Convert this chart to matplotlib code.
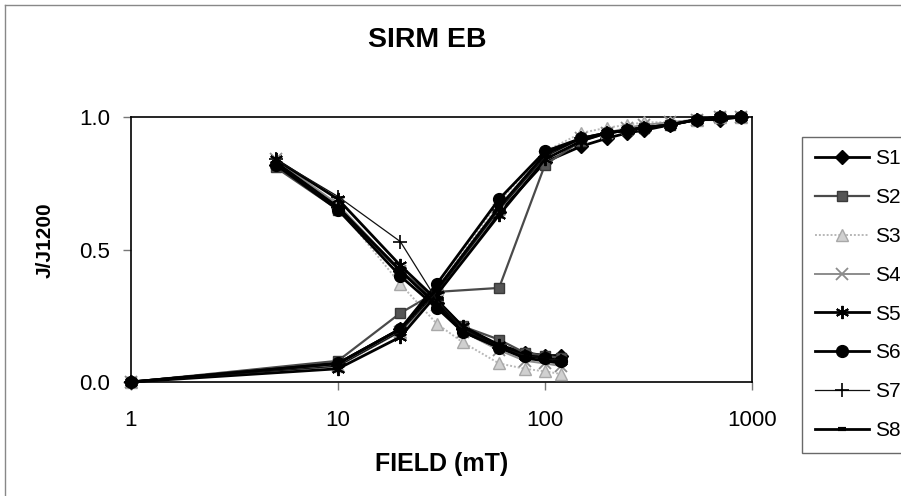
import matplotlib
matplotlib.use("Agg")
import matplotlib.pyplot as plt
from matplotlib.lines import Line2D
import numpy as np

plt.rcParams['font.family'] = ['Liberation Sans', 'DejaVu Sans']

# ---------------- data ----------------
series_names = ["S1", "S2", "S3", "S4", "S5", "S6", "S7", "S8"]

# AF demagnetisation of SIRM (fields in mT)
af_field = [5, 10, 20, 30, 40, 60, 80, 100, 120]
af_S1 = [0.82, 0.66, 0.42, 0.30, 0.20, 0.14, 0.11, 0.10, 0.10]
af_S2 = [0.81, 0.65, 0.42, 0.31, 0.21, 0.16, 0.11, 0.10, 0.09]
af_S3 = [0.83, 0.66, 0.37, 0.22, 0.15, 0.07, 0.05, 0.04, 0.03]
af_S4 = [0.84, 0.67, 0.42, 0.29, 0.19, 0.12, 0.08, 0.07, 0.06]
af_S5 = [0.84, 0.69, 0.44, 0.31, 0.21, 0.14, 0.10, 0.09, 0.08]
af_S6 = [0.82, 0.65, 0.40, 0.28, 0.19, 0.13, 0.10, 0.09, 0.08]
af_S7 = [0.84, 0.70, 0.53, 0.31, 0.20, 0.13, 0.10, 0.09, 0.08]
af_S8 = [0.83, 0.66, 0.42, 0.29, 0.19, 0.13, 0.09, 0.08, 0.07]

# IRM acquisition (fields in mT)
acq_field = [1, 10, 20, 30, 60, 100, 150, 200, 250, 300, 400, 540, 700, 880]
acq_S1 = [0.0, 0.07, 0.20, 0.34, 0.64, 0.83, 0.89, 0.92, 0.94, 0.95, 0.97, 0.99, 0.99, 1.0]
acq_S2 = [0.0, 0.08, 0.26, 0.34, 0.355, 0.82, 0.91, 0.94, 0.95, 0.96, 0.97, 0.99, 1.0, 1.0]
acq_S3 = [0.0, 0.06, 0.19, 0.35, 0.68, 0.87, 0.94, 0.96, 0.97, 0.98, 0.98, 0.99, 1.0, 1.0]
acq_S4 = [0.0, 0.06, 0.19, 0.33, 0.65, 0.85, 0.92, 0.94, 0.96, 0.97, 0.98, 0.99, 1.0, 1.0]
acq_S5 = [0.0, 0.05, 0.17, 0.33, 0.63, 0.84, 0.91, 0.94, 0.95, 0.96, 0.97, 0.99, 1.0, 1.0]
acq_S6 = [0.0, 0.07, 0.20, 0.37, 0.69, 0.87, 0.92, 0.94, 0.95, 0.96, 0.97, 0.99, 1.0, 1.0]
acq_S7 = [0.0, 0.06, 0.19, 0.34, 0.65, 0.85, 0.92, 0.94, 0.95, 0.96, 0.97, 0.99, 1.0, 1.0]
acq_S8 = [0.0, 0.07, 0.20, 0.35, 0.66, 0.86, 0.92, 0.94, 0.95, 0.96, 0.97, 0.99, 1.0, 1.0]

af_values = [af_S1, af_S2, af_S3, af_S4, af_S5, af_S6, af_S7, af_S8]
acq_values = [acq_S1, acq_S2, acq_S3, acq_S4, acq_S5, acq_S6, acq_S7, acq_S8]

x_ticks = [1, 10, 100, 1000]
x_tick_labels = ["1", "10", "100", "1000"]
y_ticks = [0.0, 0.5, 1.0]
y_tick_labels = ["0.0", "0.5", "1.0"]

# ---------------- styles ----------------
styles = [
    dict(color="#000000", marker="D", ms=7.5, lw=2.0, mec="#000000", mfc="#000000", mew=1),
    dict(color="#4a4a4a", marker="s", ms=7.5, lw=1.6, mec="#3a3a3a", mfc="#555555", mew=1),
    dict(color="#b8b8b8", marker="^", ms=8.5, lw=1.4, mec="#a8a8a8", mfc="#d0d0d0", mew=1, ls=(0, (1, 1))),
    dict(color="#8c8c8c", marker="x", ms=8.5, lw=1.4, mec="#8c8c8c", mfc="none", mew=1.3),
    dict(color="#000000", marker=(6, 2, 0), ms=9.5, lw=2.0, mec="#000000", mfc="none", mew=1.4),
    dict(color="#000000", marker="o", ms=8.5, lw=2.0, mec="#000000", mfc="#000000", mew=1),
    dict(color="#111111", marker="+", ms=10, lw=0.9, mec="#000000", mfc="none", mew=1.2),
    dict(color="#000000", marker="_", ms=6, lw=2.0, mec="#000000", mfc="none", mew=3),
]

W, H = 901, 496
fig = plt.figure(figsize=(W / 100, H / 100), dpi=100)
ax = fig.add_axes([131 / W, 1 - 382 / H, (752 - 131) / W, (382 - 117) / H])

handles = []
for name, st, afv, acqv in zip(series_names, styles, af_values, acq_values):
    kw = dict(color=st["color"], marker=st["marker"], markersize=st["ms"], linewidth=st["lw"],
              markeredgecolor=st["mec"], markerfacecolor=st["mfc"], markeredgewidth=st["mew"],
              linestyle=st.get("ls", "-"), clip_on=False, zorder=3)
    ax.plot(acq_field, acqv, **kw)
    ax.plot(af_field, afv, **kw)
    handles.append(Line2D([], [], label=name, **kw))

ax.set_xscale("log")
ax.set_xlim(1, 1000)
ax.set_ylim(0, 1.0)
ax.set_xticks(x_ticks)
ax.set_xticklabels(x_tick_labels)
ax.set_yticks(y_ticks)
ax.set_yticklabels(y_tick_labels)
ax.minorticks_off()
ax.tick_params(axis="both", direction="out", length=6, width=1, color="#777777",
               labelsize=16)
ax.tick_params(axis="y", pad=9)
ax.tick_params(axis="x", pad=14)
for s in ax.spines.values():
    s.set_color("#000000")
    s.set_linewidth(1.2)

fig.text(441.5 / W, 1 - 464 / H, "FIELD (mT)", fontsize=18, fontweight="bold",
         ha="center", va="center")
fig.text(45.5 / W, 1 - 240 / H, "J/J1200", fontsize=15, fontweight="bold",
         ha="center", va="center", rotation=90)
fig.text(427.5 / W, 1 - 40 / H, "SIRM EB", fontsize=20.5, fontweight="bold",
         ha="center", va="center")

leg = fig.legend(handles=handles, loc="upper left", bbox_to_anchor=(802 / W, 1 - 137 / H),
                 fontsize=15, frameon=True, fancybox=False, handlelength=2.6,
                 handletextpad=0.3, labelspacing=0.95, borderpad=0.6, borderaxespad=0)
leg.get_frame().set_edgecolor("#444444")
leg.get_frame().set_linewidth(1.0)

# outer chart frame (scan)
fig.add_artist(Line2D([5 / W, 5 / W], [0, 1 - 5 / H], transform=fig.transFigure,
                      color="#888888", lw=1))
fig.add_artist(Line2D([5 / W, 1], [1 - 5 / H, 1 - 5 / H], transform=fig.transFigure,
                      color="#888888", lw=1))

fig.savefig("out.png", dpi=100)
